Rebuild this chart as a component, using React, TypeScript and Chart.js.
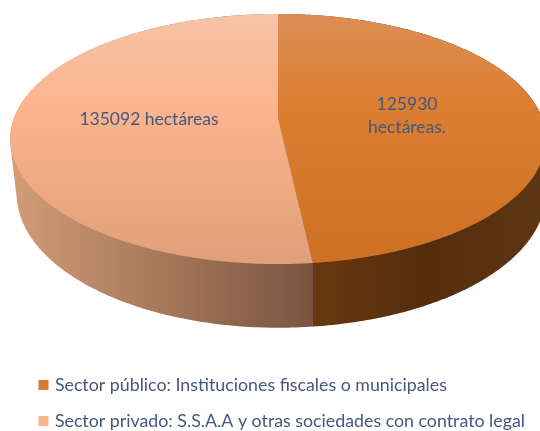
import React, { useEffect, useRef } from "react";
import { Chart, registerables } from "chart.js";

Chart.register(...registerables);

const categories = [
  "Sector público: Instituciones fiscales o municipales",
  "Sector privado: S.S.A.A y otras sociedades con contrato legal",
];
const hectares = [125930, 135092];
const sliceLabels = [["125930", "hectáreas."], ["135092 hectáreas"]];
const legendColors = ["#D97B2F", "#F9B58F"];

const CX = 278, CY = 118, A = 264, B = 121.5, P = 0.168, DEPTH = 53, LEFT_TAPER = 0.024;
const FONT = "Lato";
const TEXT = "#44587F";

const topStops = [
  [[0, "#DB8E56"], [0.35, "#DC7F33"], [1, "#CE7024"]],
  [[0, "#F6C4A7"], [0.38, "#FBB48D"], [1, "#DF9F78"]],
];
const wallStops = [
  [[0, "#693810"], [0.5, "#532D0E"], [1, "#5E3612"]],
  [[0, "#D29C76"], [1, "#78543F"]],
];
const wallRanges = [[313, 540], [12, 313]];
const labelPos = [[407, 104, 23.5], [149, 119, 0]];

type Pt = { x: number; y: number };

function project(angle: number, z: number): Pt {
  const t = angle + Math.PI / 2;
  const u = Math.sin(t), v = -Math.cos(t);
  const w = 1 - P * v;
  const taper = u < 0 ? 1 - LEFT_TAPER * z : 1;
  return { x: CX + ((A * u) / w) * taper, y: CY + (B * v) / w + (z * DEPTH) / w };
}

function hull(points: Pt[]): Pt[] {
  const pts = [...points].sort((a, b) => a.x - b.x || a.y - b.y);
  const cross = (o: Pt, a: Pt, b: Pt) => (a.x - o.x) * (b.y - o.y) - (a.y - o.y) * (b.x - o.x);
  const half = (list: Pt[]) => {
    const out: Pt[] = [];
    for (const p of list) {
      while (out.length > 1 && cross(out[out.length - 2], out[out.length - 1], p) <= 0) out.pop();
      out.push(p);
    }
    out.pop();
    return out;
  };
  return [...half(pts), ...half(pts.slice().reverse())];
}

function grad(ctx: CanvasRenderingContext2D, x0: number, y0: number, x1: number, y1: number, stops: any[]) {
  const g = ctx.createLinearGradient(x0, y0, x1, y1);
  stops.forEach(([o, c]) => g.addColorStop(o, c));
  return g;
}

const pie3d = {
  id: "pie3d",
  beforeDatasetDraw(chart: any, args: any) {
    const ctx: CanvasRenderingContext2D = chart.ctx;
    const arcs = args.meta.data;
    const N = 240;
    ctx.save();
    arcs.forEach((arc: any, i: number) => {
      const { startAngle: s, endAngle: e } = arc;
      const rim: Pt[] = [];
      for (let k = 0; k <= N; k++) {
        const a = s + ((e - s) * k) / N;
        rim.push(project(a, 0), project(a, 1));
      }
      ctx.beginPath();
      hull(rim).forEach((p, k) => (k ? ctx.lineTo(p.x, p.y) : ctx.moveTo(p.x, p.y)));
      ctx.closePath();
      ctx.fillStyle = grad(ctx, wallRanges[i][0], 0, wallRanges[i][1], 0, wallStops[i]);
      ctx.fill();
    });
    arcs.forEach((arc: any, i: number) => {
      const { startAngle: s, endAngle: e } = arc;
      ctx.beginPath();
      ctx.moveTo(CX, CY);
      for (let k = 0; k <= N; k++) {
        const p = project(s + ((e - s) * k) / N, 0);
        ctx.lineTo(p.x, p.y);
      }
      ctx.closePath();
      ctx.fillStyle = grad(ctx, 0, 14, 0, 264, topStops[i]);
      ctx.fill();
    });
    ctx.fillStyle = TEXT;
    ctx.font = `17.5px ${FONT}`;
    ctx.textAlign = "center";
    ctx.textBaseline = "middle";
    sliceLabels.forEach((lines, i) => {
      const [x, y, lh] = labelPos[i];
      lines.forEach((l, j) => ctx.fillText(l, x, y + j * lh));
    });
    ctx.restore();
    return false;
  },
};

export default function App() {
  const ref = useRef<HTMLCanvasElement>(null);
  useEffect(() => {
    const chart = new Chart(ref.current!, {
      type: "pie",
      data: {
        labels: categories,
        datasets: [{ data: hectares, backgroundColor: legendColors, borderColor: legendColors, borderWidth: 5 }],
      },
      options: {
        animation: false,
        responsive: false,
        layout: { padding: { left: 22.8, bottom: -9, top: 0, right: 0 } },
        plugins: {
          tooltip: { enabled: false },
          legend: {
            position: "bottom",
            align: "start",
            labels: {
              boxWidth: 5,
              boxHeight: 5,
              padding: 18.2,
              color: TEXT,
              font: { family: FONT, size: 17.8 },
            },
          },
        },
      },
      plugins: [pie3d],
    } as any);
    return () => chart.destroy();
  }, []);
  return (
    <div style={{ position: "absolute", left: 0, top: 0, width: 540, height: 431, background: "#fff" }}>
      <canvas ref={ref} width={540} height={431} style={{ display: "block" }} />
    </div>
  );
}
